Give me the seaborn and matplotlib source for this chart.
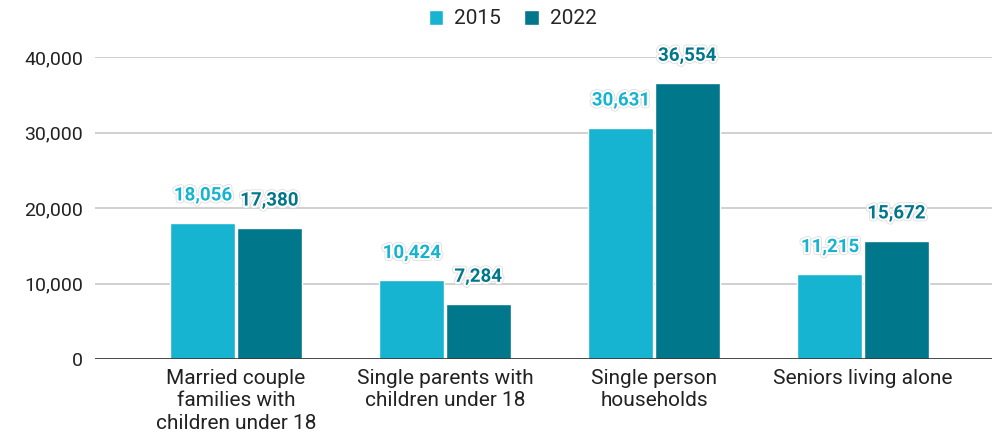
import numpy as np
import matplotlib
matplotlib.use("Agg")
import matplotlib.pyplot as plt
import matplotlib.patheffects as pe
import seaborn as sns
import pandas as pd

# %%
categories = ["Married couple\nfamilies with\nchildren under 18",
              "Single parents with\nchildren under 18",
              "Single person\nhouseholds",
              "Seniors living alone"]
years = ["2015", "2022"]
v2015 = [18056, 10424, 30631, 11215]
v2022 = [17380, 7284, 36554, 15672]
colors = ["#17b4d1", "#00778a"]

df = pd.DataFrame({
    "category": categories * 2,
    "year": [years[0]] * 4 + [years[1]] * 4,
    "value": v2015 + v2022,
})

# %%
sns.set_style("white")
plt.rcParams["font.family"] = ["Roboto", "DejaVu Sans"]

fig = plt.figure(figsize=(9.92, 4.34), dpi=100)
ax = fig.add_axes([95 / 992, 1 - 359 / 434, 897 / 992, (359 - 57) / 434])

sns.barplot(data=df, x="category", y="value", hue="year", palette=colors,
            width=0.635, gap=0.02, saturation=1, ax=ax, legend=True)

ax.set_ylim(0, 40000)
ax.set_xlim(-0.675, 3.617)
ax.set_yticks(range(0, 40001, 10000))
ax.set_yticklabels([f"{t:,}" for t in range(0, 40001, 10000)])
ax.grid(axis="y", color="#c8c8c8", linewidth=1.2)
ax.set_axisbelow(True)
ax.axhline(0, color="#333333", linewidth=1.2, zorder=3)
for s in ax.spines.values():
    s.set_visible(False)
ax.tick_params(axis="y", length=0, pad=8.5, labelsize=14, labelcolor="#222222")
ax.tick_params(axis="x", length=0, pad=7, labelsize=15, labelcolor="#222222")
ax.set_xticks(range(len(categories)), labels=categories, linespacing=1.25,
              va="top")
ax.set_xlabel("")
ax.set_ylabel("")

# value labels
halo = [pe.Stroke(linewidth=4, foreground="#d8d8d8"),
        pe.Stroke(linewidth=3, foreground="white"), pe.Normal()]
for cont, col in zip(ax.containers, colors):
    for bar in cont:
        h = bar.get_height()
        ax.annotate(f"{int(h):,}", (bar.get_x() + bar.get_width() / 2, h),
                    xytext=(0, 16), textcoords="offset points",
                    ha="center", va="baseline", fontsize=13.5, fontweight="bold",
                    color=col, path_effects=halo, clip_on=False, zorder=5)

leg = ax.get_legend()
handles = leg.legend_handles
leg.remove()
fig.legend(handles, years, loc="center", bbox_to_anchor=(0.5166, 1 - 19 / 434),
           ncol=2, frameon=False, fontsize=15, handlelength=0.7, handleheight=0.7,
           handletextpad=0.53, columnspacing=1.1, borderaxespad=0)

fig.savefig("out.png", dpi=100)
